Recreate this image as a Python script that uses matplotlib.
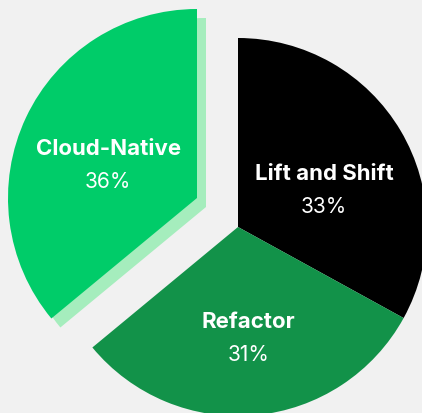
import numpy as np
import matplotlib
matplotlib.use('Agg')
import matplotlib.pyplot as plt
from matplotlib.patches import Wedge

labels = ['Lift and Shift', 'Refactor', 'Cloud-Native']
shares = [33, 31, 36]
colors = ['#000000', '#129249', '#00cc69']
shadow_color = '#a5edbd'
bg = '#f1f1f1'

plt.rcParams['font.family'] = ['Inter', 'DejaVu Sans']

W, H = 422, 413
fig = plt.figure(figsize=(W / 100, H / 100), dpi=100, facecolor=bg)
ax = fig.add_axes([0, 0, 1, 1])
ax.set_facecolor(bg)

cx, cy, r = 238, 186, 189
wedges, _ = ax.pie(shares, colors=colors, startangle=90, counterclock=False,
                   radius=r, center=(cx, cy), frame=True,
                   wedgeprops=dict(linewidth=0))
ax.set_xlim(0, W)
ax.set_ylim(0, H)
ax.set_aspect('equal')
ax.axis('off')

# вирізаний сектор Cloud-Native + тінь
pull = (-41, 29)
shadow_off = (9, -9)
w = wedges[2]
w.set_center((cx + pull[0], cy + pull[1]))
sh = Wedge((cx + pull[0] + shadow_off[0], cy + pull[1] + shadow_off[1]), r,
           w.theta1, w.theta2, color=shadow_color, linewidth=0,
           zorder=w.get_zorder() - 0.5)
ax.add_patch(sh)

# підписи: відстань від центру + невеликий вертикальний зсув
dist = [0.53, 0.58, 0.52]
nudge = [-14.5, -2, -9]
for wd, lab, s, d, n in zip(wedges, labels, shares, dist, nudge):
    th = np.deg2rad((wd.theta1 + wd.theta2) / 2)
    x0, y0 = wd.center
    x = x0 + d * r * np.cos(th)
    y = y0 + d * r * np.sin(th) + n
    ax.text(x, y + 16.5, lab, color='white', fontsize=16, fontweight='bold',
            ha='center', va='center')
    ax.text(x, y - 16.5, f'{s}%', color='white', fontsize=15,
            ha='center', va='center')

fig.savefig('out.png', dpi=100, facecolor=bg)
